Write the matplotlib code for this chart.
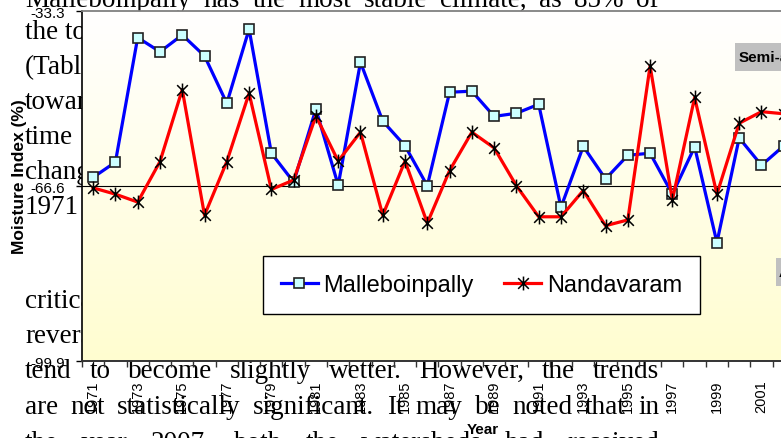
import matplotlib
matplotlib.use("Agg")
import matplotlib.pyplot as plt
import numpy as np
from matplotlib.path import Path
from matplotlib.patches import Rectangle

# Moisture index per year
years = list(range(1971, 2003))
malleboinpally = [-64.9, -62.0, -38.3, -41.0, -37.8, -41.8, -50.8, -36.7, -60.3, -65.8,
                  -51.9, -66.4, -43.0, -54.2, -58.9, -66.5, -48.7, -48.5, -53.3, -52.7,
                  -51.0, -70.6, -59.0, -65.2, -60.7, -60.3, -68.1, -59.1, -77.3, -57.4,
                  -62.6, -58.9]
nandavaram = [-66.9, -68.1, -69.6, -61.9, -48.2, -72.1, -61.9, -48.9, -67.2, -65.4,
              -53.2, -61.8, -56.3, -72.1, -61.8, -73.6, -63.6, -56.3, -59.3, -66.5,
              -72.4, -72.4, -67.4, -74.1, -73.0, -43.7, -69.2, -49.7, -68.1, -54.6,
              -52.4, -52.8]
year_labels = list(range(1971, 2006, 2))
y_ticks = [-99.9, -66.6, -33.3]
y_labels = ["-99.9", "-66.6", "-33.3"]

# texte du document qui passe derriere le graphique
doc_left = [("the total", 39), ("(Table", 74), ("towards", 109), ("time", 144),
            ("change", 179), ("1971", 214), ("critical", 308), ("reverse", 343)]
doc_lines = [("Malleboinpally has the most stable climate, as 85% of", 7),
             ("tend to become slightly wetter. However, the trends", 378),
             ("are not statistically significant. It may be noted that in", 414),
             ("the year 2007, both the watersheds had received", 450)]

W, H = 781, 439
fig = plt.figure(figsize=(W / 100, H / 100), dpi=100)
fig.patch.set_facecolor("white")

bg = fig.add_axes([0, 0, 1, 1], zorder=0)
bg.axis("off")
bg.set_xlim(0, W)
bg.set_ylim(H, 0)

serif = {"family": "Liberation Serif", "size": 19.5}
for t, yb in doc_left:
    bg.text(25, yb, t, va="baseline", ha="left", fontdict=serif)

renderer = fig.canvas.get_renderer()
for t, yb in doc_lines:
    words = t.split()
    objs = [bg.text(0, yb, w, va="baseline", ha="left", fontdict=serif) for w in words]
    widths = [o.get_window_extent(renderer).width for o in objs]
    gap = (659 - 25 - sum(widths)) / (len(words) - 1)
    x = 25
    for o, w in zip(objs, widths):
        o.set_x(x)
        x += w + gap

# axes du graphique (deborde a droite comme dans l'original)
left, right, top, bottom = 82, 884, 12.3, 362.3
ax = fig.add_axes([left / W, 1 - bottom / H, (right - left) / W, (bottom - top) / H], zorder=1)
ax.patch.set_alpha(0)

grad = np.linspace(0, 1, 256).reshape(-1, 1)
c_top = np.array([255, 255, 255]) / 255
c_bot = np.array([255, 253, 208]) / 255
img = c_top[None, None, :] * (1 - grad[:, :, None]) + c_bot[None, None, :] * grad[:, :, None]
ax.imshow(img, extent=[0, 1, 0, 1], transform=ax.transAxes, aspect="auto", zorder=0)

ax.set_xlim(1970.5, 2006.5)
ax.set_ylim(-99.9, -33.3)
ax.axhline(-66.6, color="black", lw=0.8, zorder=1)

star = Path([(-1, -1), (1, 1), (-1, 1), (1, -1), (0, -1.3), (0, 1.3)],
            [Path.MOVETO, Path.LINETO, Path.MOVETO, Path.LINETO, Path.MOVETO, Path.LINETO])

ax.plot(years, malleboinpally, color="#0000FF", lw=2.3, marker="s", markersize=7,
        markerfacecolor="#CCFFFF", markeredgecolor="#222222", markeredgewidth=1.2,
        label="Malleboinpally", zorder=3)
ax.plot(years, nandavaram, color="#FF0000", lw=2.3, marker=star, markersize=10,
        markeredgecolor="black", markeredgewidth=1.1, label="Nandavaram", zorder=4)

ax.set_yticks(y_ticks)
ax.set_yticklabels(y_labels, fontfamily="Liberation Sans", fontsize=11)
ax.tick_params(axis="y", length=4, width=1, pad=8, direction="out")

ax.set_xticks(year_labels)
ax.set_xticklabels([str(y) for y in year_labels], fontfamily="Liberation Sans", fontsize=10.5,
                   rotation=90)
ax.set_xticks(np.arange(1970.5, 2007, 1), minor=True)
ax.tick_params(axis="x", which="major", length=0, pad=13)
ax.tick_params(axis="x", which="minor", length=4, width=1, color="#333333", direction="out")

for s in ["right"]:
    ax.spines[s].set_visible(False)
ax.spines["top"].set_color("#808080")
ax.spines["top"].set_linewidth(1.3)
ax.spines["left"].set_color("black")
ax.spines["left"].set_linewidth(1.2)
ax.spines["bottom"].set_color("#333333")
ax.spines["bottom"].set_linewidth(1.4)

leg = ax.legend(loc="center", bbox_to_anchor=(481.5 / W, 1 - 286 / H), bbox_transform=fig.transFigure,
                ncol=2, fancybox=False, framealpha=1, edgecolor="black",
                prop={"family": "Liberation Sans", "size": 17}, handlelength=1.55,
                handletextpad=0.25, columnspacing=1.3, borderpad=0.75)
leg.get_frame().set_linewidth(1.0)

# etiquettes grises a droite
fig.add_artist(Rectangle((735 / W, 1 - 72 / H), 60 / W, 28 / H, transform=fig.transFigure,
                         facecolor="#C0C0C0", edgecolor="none", zorder=5))
fig.text(739 / W, 1 - 58 / H, "Semi-arid", ha="left", va="center", fontfamily="Liberation Sans",
         fontweight="bold", fontsize=11, zorder=6)
fig.add_artist(Rectangle((776 / W, 1 - 287 / H), 20 / W, 28 / H, transform=fig.transFigure,
                         facecolor="#C0C0C0", edgecolor="none", zorder=5))
fig.text(779 / W, 1 - 273 / H, "Arid", ha="left", va="center", fontfamily="Liberation Sans",
         fontweight="bold", fontsize=11, zorder=6)

fig.text(19.5 / W, 1 - 177 / H, "Moisture Index (%)", rotation=90, ha="center", va="center",
         fontfamily="Liberation Sans", fontweight="bold", fontsize=12.5)
fig.text(483 / W, 1 - 430 / H, "Year", ha="center", va="center",
         fontfamily="Liberation Sans", fontweight="bold", fontsize=11)

fig.savefig("out.png", dpi=100)
